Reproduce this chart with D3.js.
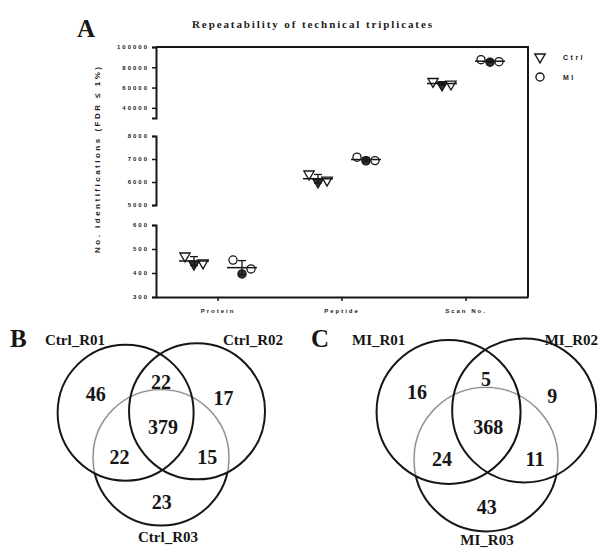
<!DOCTYPE html>
<html><head><meta charset="utf-8">
<script src="https://cdn.jsdelivr.net/npm/d3@7"></script>
<style>body{margin:0;background:#fff} svg{display:block}</style>
</head><body>
<svg id="fig" width="600" height="551"></svg>
<script>
// ---- Panel A data: identifications per technical replicate ----
const categories = ["Protein", "Peptide", "Scan No."];
const groups = ["Ctrl", "MI"];
const ctrlValues = [[471, 437, 442], [6350, 6000, 6080], [66000, 62500, 63500]];
const miValues = [[454, 396, 417], [7080, 6920, 6930], [87500, 85000, 85500]];
const ticksLow = [300, 400, 500, 600];
const ticksMid = [5000, 6000, 7000, 8000];
const ticksHigh = [40000, 60000, 80000, 100000];

// ---- Panels B and C data: protein overlap between replicates ----
const regions = ["A", "AB", "B", "ABC", "AC", "BC", "C"];
const ctrlSets = ["Ctrl_R01", "Ctrl_R02", "Ctrl_R03"];
const ctrlCounts = [46, 22, 17, 379, 22, 15, 23];
const miSets = ["MI_R01", "MI_R02", "MI_R03"];
const miCounts = [16, 5, 9, 368, 24, 11, 43];

const svg = d3.select("#fig");
const ink = "#161616";
const serif = "'Liberation Serif', 'Times New Roman', serif";
const sans = "'Liberation Sans', Arial, sans-serif";

// ================= Panel A =================
const plot = {left: 156, right: 528, top: 47, bottom: 297};
const x = d3.scaleBand().domain(categories).range([plot.left, plot.right]);
const groupOffset = d3.scalePoint().domain(groups).range([-24, 24]);
const repOffset = d3.scalePoint().domain([0, 1, 2]).range([-9, 9]);

// broken y axis: one linear segment per category
const segments = [
  {domain: [300, 600], range: [297, 225], ticks: ticksLow},
  {domain: [5000, 8000], range: [205, 136], ticks: ticksMid},
  {domain: [30000, 100000], range: [118, 47], ticks: ticksHigh}
];
segments.forEach(s => s.scale = d3.scaleLinear().domain(s.domain).range(s.range));

segments.forEach(s => {
  const g = svg.append("g")
    .attr("transform", `translate(${plot.left},0)`)
    .call(d3.axisLeft(s.scale).tickValues(s.ticks).tickFormat(d3.format("d"))
      .tickSizeInner(4).tickSizeOuter(4).tickPadding(3));
  g.select(".domain").attr("stroke", ink).attr("stroke-width", 2);
  g.selectAll(".tick line").attr("stroke", ink).attr("stroke-width", 1.5);
  g.selectAll(".tick text")
    .attr("font-family", sans).attr("font-weight", "bold")
    .attr("font-size", 6).attr("letter-spacing", 2).attr("fill", "#222");
});

// x axis with category ticks
const xg = svg.append("g")
  .attr("transform", `translate(0,${plot.bottom})`)
  .call(d3.axisBottom(x).tickSizeInner(4).tickSizeOuter(0).tickPadding(8));
xg.select(".domain").attr("stroke", ink).attr("stroke-width", 2);
xg.selectAll(".tick line").attr("stroke", ink).attr("stroke-width", 1.5);
xg.selectAll(".tick text")
  .attr("font-family", sans).attr("font-weight", "bold")
  .attr("font-size", 6).attr("letter-spacing", 2).attr("fill", "#222");

// top and right frame
svg.append("path")
  .attr("d", `M${plot.left},${plot.top}H${plot.right}V${plot.bottom}`)
  .attr("fill", "none").attr("stroke", ink).attr("stroke-width", 2);

const triangleDown = d3.symbol().type(d3.symbolTriangle).size(46);
const circleSym = d3.symbol().type(d3.symbolCircle).size(52);
const series = [
  {name: "Ctrl", values: ctrlValues, path: triangleDown(), rotate: 180},
  {name: "MI", values: miValues, path: circleSym(), rotate: 0}
];

series.forEach(sr => {
  sr.values.forEach((vals, i) => {
    const y = segments[i].scale;
    const cx = x(categories[i]) + x.bandwidth() / 2 + groupOffset(sr.name);
    const m = d3.mean(vals), sd = d3.deviation(vals);
    const g = svg.append("g");
    // replicate symbols
    g.selectAll("path.pt").data(vals).join("path")
      .attr("class", "pt")
      .attr("d", sr.path)
      .attr("transform", (v, j) => `translate(${cx + repOffset(j)},${y(v)}) rotate(${sr.rotate})`)
      .attr("fill", (v, j) => j === 1 ? "#333" : "#fff")
      .attr("stroke", ink).attr("stroke-width", 1.3);
    // mean and SD
    g.append("line").attr("x1", cx - 15).attr("x2", cx + 15)
      .attr("y1", y(m)).attr("y2", y(m)).attr("stroke", ink).attr("stroke-width", 1.5);
    g.append("line").attr("x1", cx).attr("x2", cx)
      .attr("y1", y(m - sd)).attr("y2", y(m + sd)).attr("stroke", ink).attr("stroke-width", 1.3);
    [m - sd, m + sd].forEach(v => g.append("line")
      .attr("x1", cx - 4).attr("x2", cx + 4).attr("y1", y(v)).attr("y2", y(v))
      .attr("stroke", ink).attr("stroke-width", 1.3));
  });
});

// legend
const legend = svg.append("g").attr("transform", "translate(540,57)");
series.forEach((sr, k) => {
  const row = legend.append("g").attr("transform", `translate(0,${k * 20})`);
  row.append("path").attr("d", sr.path).attr("transform", `rotate(${sr.rotate})`)
    .attr("fill", "#fff").attr("stroke", ink).attr("stroke-width", 1.4);
  row.append("text").attr("x", 23).attr("y", 3).text(sr.name)
    .attr("font-family", sans).attr("font-weight", "bold").attr("font-size", 7)
    .attr("letter-spacing", 2.5).attr("fill", "#222");
});

// title, axis title, panel letter
svg.append("text").attr("x", 192).attr("y", 28)
  .attr("font-family", serif).attr("font-weight", "bold").attr("font-size", 11)
  .attr("textLength", 240).attr("lengthAdjust", "spacing").attr("fill", "#222")
  .text("Repeatability of technical triplicates");
svg.append("text").attr("transform", "translate(100,253) rotate(-90)")
  .attr("font-family", sans).attr("font-weight", "bold").attr("font-size", 8)
  .attr("textLength", 186).attr("lengthAdjust", "spacing").attr("fill", "#222")
  .text("No. identifications (FDR \u2264 1%)");
svg.append("text").attr("x", 77).attr("y", 37)
  .attr("font-family", serif).attr("font-weight", "bold").attr("font-size", 25)
  .attr("fill", ink).text("A");

// ================= Panels B and C =================
const vennLayout = {
  centers: [[-0.52, -0.21], [0.53, -0.23], [0, 0.45]],
  labels: [[-0.96, -0.49], [0, -0.66], [0.92, -0.43], [0.03, 0], [-0.61, 0.44], [0.68, 0.44], [0.01, 1.11]]
};

const panels = [
  {id: "vB", letter: "B", letterPos: [10, 347], sets: ctrlSets, counts: ctrlCounts,
   origin: [161, 427], r: 68,
   setLabels: [[45, 345, "start"], [283, 345, "end"], [168, 542, "middle"]]},
  {id: "vC", letter: "C", letterPos: [311, 347], sets: miSets, counts: miCounts,
   origin: [486, 427], r: 72,
   setLabels: [[352, 345, "start"], [598, 345, "end"], [487, 545, "middle"]]}
];

const defs = svg.append("defs");

panels.forEach(p => {
  const px = d3.scaleLinear().domain([0, 1]).range([p.origin[0], p.origin[0] + p.r]);
  const py = d3.scaleLinear().domain([0, 1]).range([p.origin[1], p.origin[1] + p.r]);
  const circles = vennLayout.centers.map(c => ({cx: px(c[0]), cy: py(c[1]), r: p.r}));

  // region of the first two circles, where the third outline is lighter
  const clip = defs.append("clipPath").attr("id", p.id + "clip");
  circles.slice(0, 2).forEach(c => clip.append("circle").attr("cx", c.cx).attr("cy", c.cy).attr("r", c.r));

  const g = svg.append("g");
  const c3 = circles[2];
  g.append("circle").attr("cx", c3.cx).attr("cy", c3.cy).attr("r", c3.r)
    .attr("fill", "none").attr("stroke", ink).attr("stroke-width", 2);
  g.append("circle").attr("cx", c3.cx).attr("cy", c3.cy).attr("r", c3.r)
    .attr("clip-path", `url(#${p.id}clip)`)
    .attr("fill", "none").attr("stroke", "#fff").attr("stroke-width", 3);
  g.append("circle").attr("cx", c3.cx).attr("cy", c3.cy).attr("r", c3.r)
    .attr("clip-path", `url(#${p.id}clip)`)
    .attr("fill", "none").attr("stroke", "#8c8c8c").attr("stroke-width", 1.4);
  g.selectAll("circle.main").data(circles.slice(0, 2)).join("circle")
    .attr("class", "main")
    .attr("cx", d => d.cx).attr("cy", d => d.cy).attr("r", d => d.r)
    .attr("fill", "none").attr("stroke", ink).attr("stroke-width", 2);

  // region counts
  g.selectAll("text.count").data(p.counts).join("text")
    .attr("class", "count")
    .attr("x", (d, i) => px(vennLayout.labels[i][0]))
    .attr("y", (d, i) => py(vennLayout.labels[i][1]))
    .attr("dy", "0.35em").attr("text-anchor", "middle")
    .attr("font-family", serif).attr("font-weight", "bold").attr("font-size", 20)
    .attr("fill", ink).text(d => d);

  // set names
  g.selectAll("text.set").data(p.sets).join("text")
    .attr("class", "set")
    .attr("x", (d, i) => p.setLabels[i][0]).attr("y", (d, i) => p.setLabels[i][1])
    .attr("text-anchor", (d, i) => p.setLabels[i][2])
    .attr("font-family", serif).attr("font-weight", "bold").attr("font-size", 15)
    .attr("fill", ink).text(d => d);

  svg.append("text").attr("x", p.letterPos[0]).attr("y", p.letterPos[1])
    .attr("font-family", serif).attr("font-weight", "bold").attr("font-size", 25)
    .attr("fill", ink).text(p.letter);
});
</script>
</body></html>
